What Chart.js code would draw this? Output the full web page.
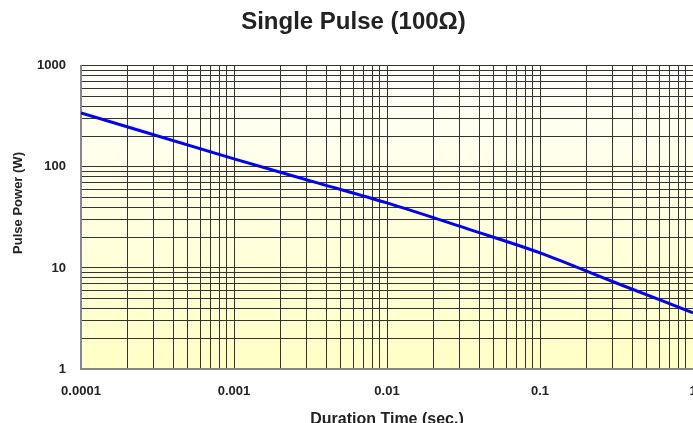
<!DOCTYPE html>
<html>
<head>
<meta charset="utf-8">
<script src="https://cdn.jsdelivr.net/npm/chart.js@4/dist/chart.umd.min.js"></script>
<style>
  html, body { margin: 0; padding: 0; background: #fff; overflow: hidden; }
</style>
</head>
<body>
<canvas id="graph-pulse" width="693" height="423"></canvas>
<script>
// values
const durations = [0.0001, 0.001, 0.0036, 0.01, 0.034, 0.1, 0.3, 1];
const powers = [342, 120, 68.7, 44, 24.2, 14.1, 7.3, 3.6];

// labelled decades
const xTickLabels = ["0.0001", "0.001", "0.01", "0.1", "1"];
const yTickLabels = ["1", "10", "100", "1000"];

// 1..9 gridlines in every decade, label only on the decade
function decadeTicks(labels) {
    const ticks = [];
    for (let i = 0; i < labels.length - 1; i++) {
        const d = parseFloat(labels[i]);
        for (let m = 1; m <= 9; m++) {
            ticks.push({ value: m * d, lbl: m === 1 ? labels[i] : "" });
        }
    }
    const last = labels[labels.length - 1];
    ticks.push({ value: parseFloat(last), lbl: last });
    return ticks;
}

const bgPlugin = {
    id: "bg",
    beforeDraw(chart) {
        const { ctx, chartArea: a } = chart;
        const g = ctx.createLinearGradient(0, a.top, 0, a.bottom);
        g.addColorStop(0, "#FFFFFA");
        g.addColorStop(1, "#FFFFC6");
        ctx.save();
        ctx.fillStyle = g;
        ctx.fillRect(a.left, a.top, a.right - a.left, a.bottom - a.top);
        ctx.restore();
    }
};

const font = "'Liberation Sans', Arial, sans-serif";

const data = {
    datasets: [{
        data: durations.map((x, i) => ({ x: x, y: powers[i] })),
        showLine: true,
        borderColor: "#0000FF",
        borderWidth: 3,
        pointRadius: 0,
        cubicInterpolationMode: "monotone"
    }]
};

const graph = new Chart(
    document.getElementById("graph-pulse"),
    {
        type: "scatter",
        data: data,
        plugins: [bgPlugin],
        options: {
            responsive: false,
            animation: false,
            layout: { padding: { top: 0, right: 0, left: 14, bottom: 0 } },
            plugins: {
                legend: { display: false },
                tooltip: { enabled: false },
                title: {
                    display: true,
                    text: "Single Pulse (100Ω)",
                    color: "#222",
                    font: { family: font, size: 24, weight: "bold" },
                    padding: { top: 8, bottom: 29 }
                }
            },
            scales: {
                x: {
                    type: "logarithmic",
                    min: 0.0001,
                    max: 1,
                    afterBuildTicks: s => { s.ticks = decadeTicks(xTickLabels); },
                    afterFit: s => { s.height = 54; s.paddingRight = 0; },
                    grid: { color: "#333", lineWidth: 1, drawTicks: false },
                    border: { display: true, color: "#888", width: 2 },
                    ticks: {
                        autoSkip: false,
                        maxRotation: 0,
                        padding: 15,
                        color: "#222",
                        font: { family: font, size: 13, weight: "bold" },
                        callback: (v, i, t) => t[i].lbl
                    },
                    title: {
                        display: true,
                        text: "Duration Time (sec.)",
                        color: "#222",
                        font: { family: font, size: 16, weight: "bold" },
                        padding: { top: 0, bottom: -6 }
                    }
                },
                y: {
                    type: "logarithmic",
                    min: 1,
                    max: 1000,
                    afterBuildTicks: s => { s.ticks = decadeTicks(yTickLabels); },
                    afterFit: s => { s.width = 67; },
                    grid: { color: "#333", lineWidth: 1, drawTicks: false },
                    border: { display: true, color: "#888", width: 2 },
                    ticks: {
                        autoSkip: false,
                        padding: 15,
                        color: "#222",
                        font: { family: font, size: 13, weight: "bold" },
                        callback: (v, i, t) => t[i].lbl
                    },
                    title: {
                        display: true,
                        text: "        Pulse Power (W)",
                        color: "#222",
                        font: { family: font, size: 13, weight: "bold" },
                        padding: { top: -3, bottom: 0 }
                    }
                }
            }
        }
    }
);
</script>
</body>
</html>
